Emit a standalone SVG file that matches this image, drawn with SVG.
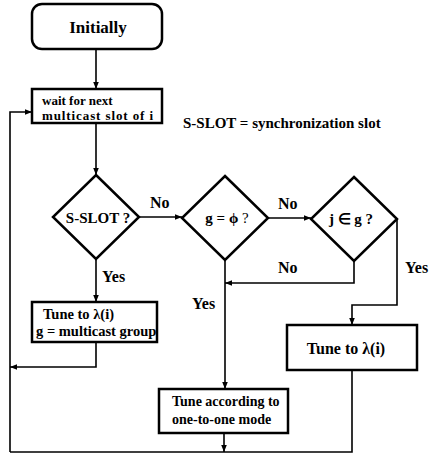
<svg xmlns="http://www.w3.org/2000/svg" width="431" height="456" viewBox="0 0 431 456">
  <defs>
    <marker id="arrow" viewBox="0 0 10 10" refX="10" refY="5" markerWidth="7" markerHeight="7" markerUnits="userSpaceOnUse" orient="auto">
      <path d="M0,1 L10,5 L0,9 Z" fill="#000"/>
    </marker>
    <style>
      text { font-family: "Liberation Serif", "Times New Roman", serif; font-weight: bold; fill: #000; }
      .box { fill: #fff; stroke: #000; stroke-width: 2.5; }
      .dia { fill: #fff; stroke: #000; stroke-width: 2.5; stroke-linejoin: miter; }
      .t { font-size: 14.5px; }
      .q { font-size: 15px; }
      .lbl { font-size: 16px; }
      .mid { text-anchor: middle; }
      #connectors path { fill: none; stroke: #000; stroke-width: 1.6; }
    </style>
  </defs>
  <rect width="431" height="456" fill="#fff"/>

  <!-- flow lines between the steps -->
  <g id="connectors">
    <path d="M96,49 V89" marker-end="url(#arrow)"/>
    <path d="M96,123 V175" marker-end="url(#arrow)"/>
    <path d="M139,217 H182" marker-end="url(#arrow)"/>
    <path d="M268,218 H311" marker-end="url(#arrow)"/>
    <path d="M96,259 V302" marker-end="url(#arrow)"/>
    <path d="M96,342 V367 H10" marker-end="url(#arrow)"/>
    <path d="M10,452 V112 H32" marker-end="url(#arrow)"/>
    <path d="M354,261 V283 H225" marker-end="url(#arrow)"/>
    <path d="M225,260 V389" marker-end="url(#arrow)"/>
    <path d="M397,219 V305 H352 V325" marker-end="url(#arrow)"/>
    <path d="M352,370 V452 H10"/>
    <path d="M224,433 V452" marker-end="url(#arrow)"/>
  </g>

  <g id="initially">
    <rect class="box" x="32" y="4" width="130" height="45" rx="10"/>
    <text class="mid" x="98" y="33" font-size="17">Initially</text>
  </g>

  <g id="wait">
    <rect class="box" x="32" y="89" width="130" height="34"/>
    <text x="42" y="105" font-size="13">wait for next</text>
    <text x="42" y="120" font-size="13" textLength="111" lengthAdjust="spacing">multicast slot of i</text>
  </g>

  <g id="note">
    <text class="q" x="183" y="128">S-SLOT = synchronization slot</text>
  </g>

  <g id="sslot">
    <polygon class="dia" points="96,175 139,217 96,259 53,217"/>
    <text class="q mid" x="98" y="223">S-SLOT ?</text>
  </g>

  <g id="g-empty">
    <polygon class="dia" points="225,176 268,218 225,260 182,218"/>
    <text class="q mid" x="227" y="223">g = ϕ <tspan font-weight="normal">?</tspan></text>
  </g>

  <g id="j-in-g">
    <polygon class="dia" points="354,177 397,219 354,261 311,219"/>
    <text class="q mid" x="351" y="224">j ∈ g ?</text>
  </g>

  <g id="tune-multicast">
    <rect class="box" x="32" y="302" width="125" height="40"/>
    <text class="t" x="43" y="319">Tune to λ(i)</text>
    <text class="t" x="36" y="336">g = multicast group</text>
  </g>

  <g id="tune-one-to-one">
    <rect class="box" x="159" y="389" width="129" height="44"/>
    <text x="172" y="406" font-size="14">Tune according to</text>
    <text x="172" y="424" font-size="14">one-to-one mode</text>
  </g>

  <g id="tune-lambda">
    <rect class="box" x="287" y="325" width="130" height="45"/>
    <text class="mid" x="346" y="354" font-size="16">Tune to λ(i)</text>
  </g>

  <g id="labels">
    <text class="lbl" x="150" y="208">No</text>
    <text class="lbl" x="278" y="209">No</text>
    <text class="lbl" x="278" y="273">No</text>
    <text class="lbl" x="102" y="282">Yes</text>
    <text class="lbl" x="192" y="309">Yes</text>
    <text class="lbl" x="405" y="273">Yes</text>
  </g>
</svg>
